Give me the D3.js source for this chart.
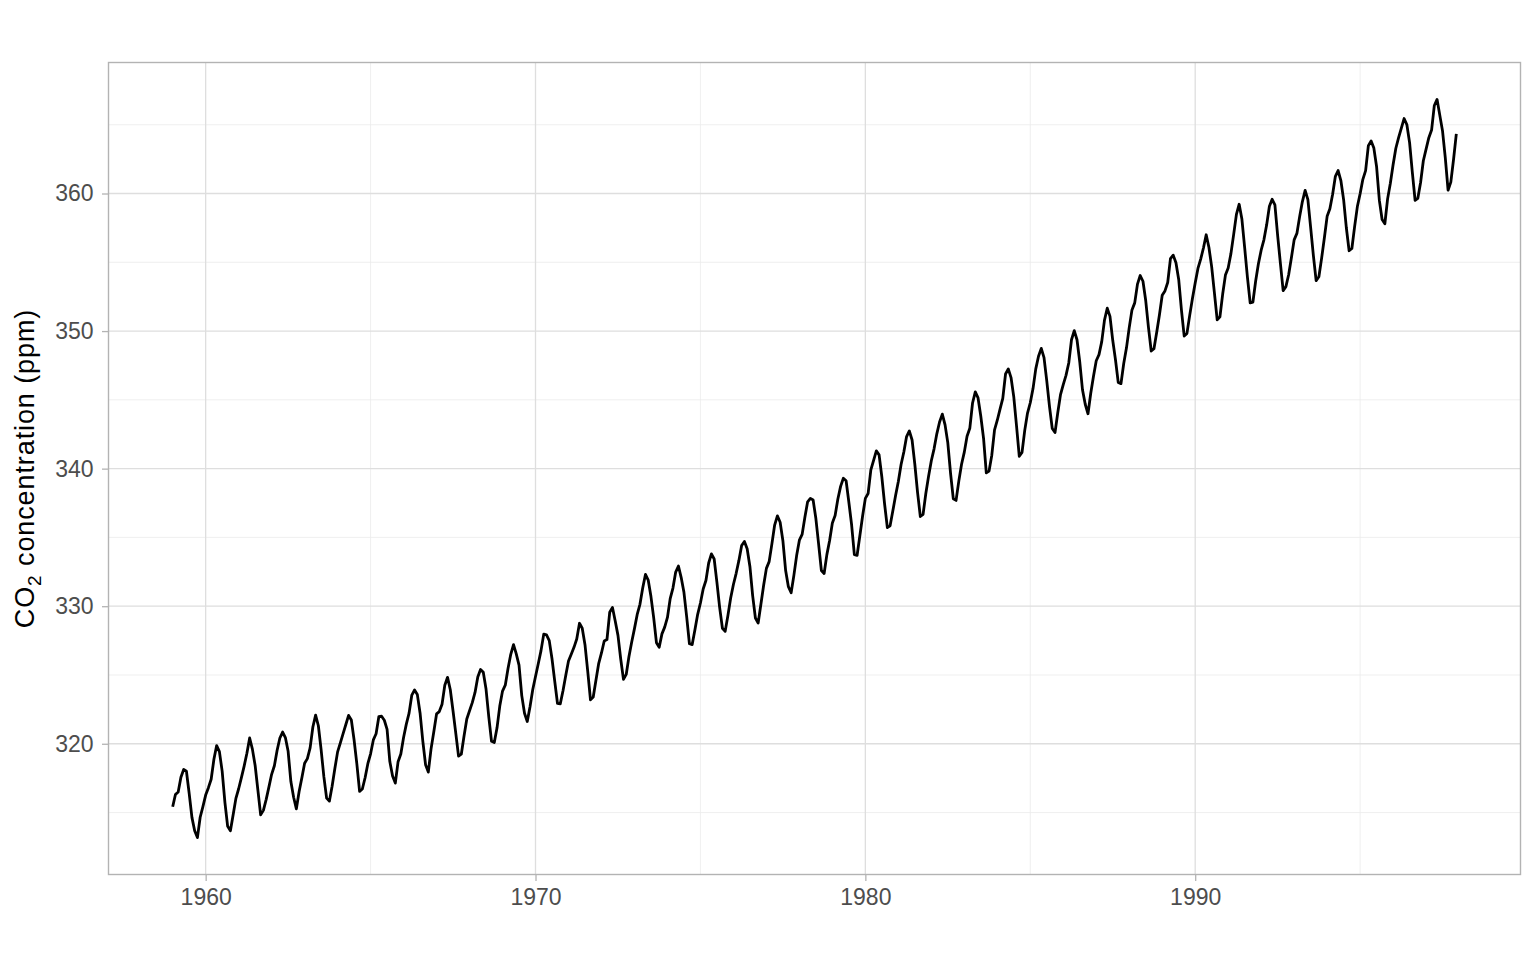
<!DOCTYPE html>
<html><head><meta charset="utf-8">
<script src="https://cdn.jsdelivr.net/npm/d3@7"></script>
<style>body{margin:0;background:#fff;} text{font-family:"Liberation Sans",Arial,sans-serif;}</style>
</head><body>
<svg id="chart" width="1536" height="960"></svg>
<script>
const startYear = 1959;
const co2 = [
315.42,316.31,316.50,317.56,318.13,318.00,316.39,314.65,313.68,313.18,314.66,315.43,
316.27,316.81,317.42,318.87,319.87,319.43,318.01,315.74,314.00,313.68,314.84,316.03,
316.73,317.54,318.38,319.31,320.42,319.61,318.42,316.63,314.83,315.16,315.94,316.85,
317.78,318.40,319.53,320.42,320.85,320.45,319.45,317.25,316.11,315.27,316.53,317.53,
318.58,318.92,319.70,321.22,322.08,321.31,319.58,317.61,316.05,315.83,316.91,318.20,
319.41,320.07,320.74,321.40,322.06,321.73,320.27,318.54,316.54,316.71,317.53,318.55,
319.27,320.28,320.73,321.97,322.00,321.71,321.05,318.71,317.66,317.14,318.70,319.25,
320.46,321.43,322.23,323.54,323.91,323.59,322.24,320.20,318.48,317.94,319.63,320.87,
322.17,322.34,322.88,324.25,324.83,323.93,322.38,320.76,319.10,319.24,320.56,321.80,
322.40,322.99,323.73,324.86,325.40,325.20,323.98,321.95,320.18,320.09,321.16,322.74,
323.83,324.26,325.47,326.50,327.21,326.54,325.72,323.50,322.22,321.62,322.69,323.95,
324.89,325.82,326.77,327.97,327.91,327.50,326.18,324.53,322.93,322.90,323.85,324.96,
326.01,326.51,327.01,327.62,328.76,328.40,327.20,325.27,323.20,323.40,324.63,325.85,
326.60,327.47,327.58,329.56,329.90,328.92,327.88,326.16,324.68,325.04,326.34,327.39,
328.37,329.40,330.14,331.33,332.31,331.90,330.70,329.15,327.35,327.02,327.99,328.48,
329.18,330.55,331.32,332.48,332.92,332.08,331.01,329.23,327.27,327.21,328.29,329.41,
330.23,331.25,331.87,333.14,333.80,333.43,331.73,329.90,328.40,328.17,329.32,330.59,
331.58,332.39,333.33,334.41,334.71,334.17,332.89,330.77,329.14,328.78,330.14,331.52,
332.75,333.24,334.53,335.90,336.57,336.10,334.76,332.59,331.42,330.98,332.24,333.68,
334.80,335.22,336.47,337.59,337.84,337.72,336.37,334.51,332.60,332.38,333.75,334.78,
336.05,336.59,337.79,338.71,339.30,339.12,337.56,335.92,333.75,333.70,335.12,336.56,
337.84,338.19,339.91,340.60,341.29,341.00,339.39,337.43,335.72,335.84,336.93,338.04,
339.06,340.30,341.21,342.33,342.74,342.08,340.32,338.26,336.52,336.68,338.19,339.44,
340.57,341.44,342.53,343.39,343.96,343.18,341.88,339.65,337.81,337.69,339.09,340.32,
341.20,342.35,342.93,344.77,345.58,345.14,343.81,342.21,339.69,339.82,340.98,342.82,
343.52,344.33,345.11,346.88,347.25,346.62,345.22,343.11,340.90,341.18,342.80,344.04,
344.79,345.82,347.25,348.17,348.74,348.07,346.38,344.51,342.92,342.62,344.06,345.38,
346.11,346.78,347.68,349.37,350.03,349.37,347.76,345.73,344.68,343.99,345.48,346.72,
347.84,348.29,349.23,350.80,351.66,351.07,349.33,347.92,346.27,346.18,347.64,348.78,
350.25,351.54,352.05,353.41,354.04,353.62,352.22,350.27,348.55,348.72,349.91,351.18,
352.60,352.92,353.53,355.26,355.52,354.97,353.75,351.52,349.64,349.83,351.14,352.37,
353.50,354.55,355.23,356.04,357.00,356.07,354.67,352.76,350.82,351.04,352.69,354.07,
354.59,355.63,357.03,358.48,359.22,358.12,356.06,353.92,352.05,352.11,353.64,354.89,
355.88,356.63,357.72,359.07,359.58,359.17,356.94,354.92,352.94,353.23,354.09,355.33,
356.63,357.10,358.32,359.41,360.23,359.55,357.53,355.48,353.67,353.95,355.30,356.78,
358.34,358.89,359.95,361.25,361.67,360.94,359.55,357.49,355.84,356.00,357.59,359.05,
359.98,361.03,361.66,363.48,363.82,363.30,361.94,359.50,358.11,357.80,359.61,360.74,
362.09,363.29,364.06,364.76,365.45,365.01,363.70,361.54,359.51,359.65,360.80,362.38,
363.23,364.06,364.61,366.40,366.84,365.68,364.52,362.57,360.24,360.83,362.49,364.34
];
const xTicks = [1960, 1970, 1980, 1990];
const xMinor = [1965, 1975, 1985, 1995];
const yTicks = [320, 330, 340, 350, 360];
const yMinor = [315, 325, 335, 345, 355, 365];
const yTitle = "concentration (ppm)";

const data = co2.map((v, i) => ({t: startYear + i / 12, v}));

const m = {left: 108.5, top: 62.5, right: 1520.5, bottom: 874.5};
const svg = d3.select("#chart");

const tExt = d3.extent(data, d => d.t), vExt = d3.extent(data, d => d.v);
const tPad = (tExt[1] - tExt[0]) * 0.05, vPad = (vExt[1] - vExt[0]) * 0.05;
const x = d3.scaleLinear().domain([tExt[0] - tPad, tExt[1] + tPad]).range([m.left, m.right]);
const y = d3.scaleLinear().domain([vExt[0] - vPad, vExt[1] + vPad]).range([m.bottom, m.top]);

const g = svg.append("g");
// minor grid
g.selectAll(".xm").data(xMinor).join("line")
  .attr("x1", d => x(d)).attr("x2", d => x(d)).attr("y1", m.top).attr("y2", m.bottom)
  .attr("stroke", "#EBEBEB").attr("stroke-width", 0.8);
g.selectAll(".ym").data(yMinor).join("line")
  .attr("y1", d => y(d)).attr("y2", d => y(d)).attr("x1", m.left).attr("x2", m.right)
  .attr("stroke", "#EBEBEB").attr("stroke-width", 0.8);
// major grid
g.selectAll(".xg").data(xTicks).join("line")
  .attr("x1", d => x(d)).attr("x2", d => x(d)).attr("y1", m.top).attr("y2", m.bottom)
  .attr("stroke", "#DEDEDE").attr("stroke-width", 1.3);
g.selectAll(".yg").data(yTicks).join("line")
  .attr("y1", d => y(d)).attr("y2", d => y(d)).attr("x1", m.left).attr("x2", m.right)
  .attr("stroke", "#DEDEDE").attr("stroke-width", 1.3);

// line
svg.append("path").datum(data)
  .attr("d", d3.line().x(d => x(d.t)).y(d => y(d.v)))
  .attr("fill", "none").attr("stroke", "#000").attr("stroke-width", 2.8)
  .attr("stroke-linejoin", "round");

// border
svg.append("rect").attr("x", m.left).attr("y", m.top)
  .attr("width", m.right - m.left).attr("height", m.bottom - m.top)
  .attr("fill", "none").attr("stroke", "#B3B3B3").attr("stroke-width", 1.4);

// axes
const xAxis = svg.append("g").attr("transform", `translate(0,${m.bottom})`)
  .call(d3.axisBottom(x).tickValues(xTicks).tickFormat(d3.format("d")).tickSize(6.5).tickPadding(8));
const yAxis = svg.append("g").attr("transform", `translate(${m.left},0)`)
  .call(d3.axisLeft(y).tickValues(yTicks).tickFormat(d3.format("d")).tickSize(6.5).tickPadding(8.5));
[xAxis, yAxis].forEach(a => {
  a.select(".domain").remove();
  a.selectAll(".tick line").attr("stroke", "#B3B3B3").attr("stroke-width", 1.3);
  a.selectAll(".tick text").attr("fill", "#4D4D4D").style("font-size", "23px")
    .style("font-family", "'Liberation Sans', Arial, sans-serif");
});

// y title with subscript
const tt = svg.append("text")
  .attr("transform", `translate(34,${(m.top + m.bottom) / 2}) rotate(-90)`)
  .attr("text-anchor", "middle").attr("fill", "#000")
  .style("font-size", "27px").style("letter-spacing", "0.9px");
tt.append("tspan").text("CO");
tt.append("tspan").text("2").style("font-size", "19px").attr("dy", 7);
tt.append("tspan").text(" " + yTitle).attr("dy", -7);
</script>
</body></html>
